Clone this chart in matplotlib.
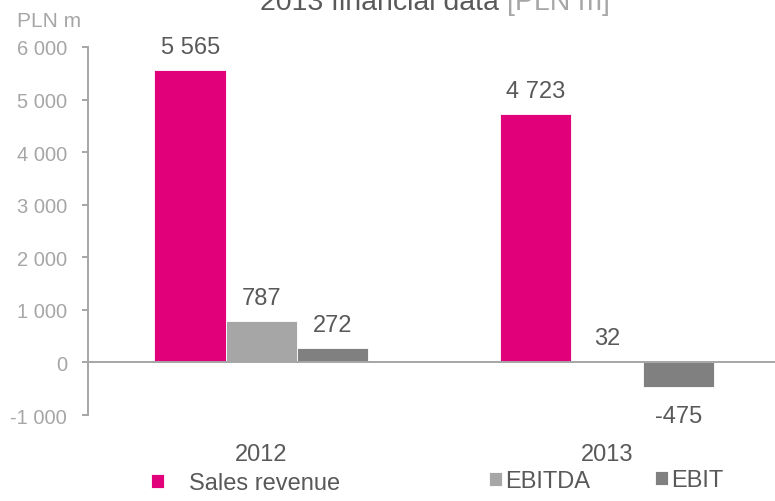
import matplotlib
matplotlib.use("Agg")
import matplotlib.pyplot as plt

# data
years = ["2012", "2013"]
series = ["Sales revenue", "EBITDA", "EBIT"]
sales = [5565, 4723]
ebitda = [787, 32]
ebit = [272, -475]
yticks = [-1000, 0, 1000, 2000, 3000, 4000, 5000, 6000]
ytick_labels = ["-1 000", "0", "1 000", "2 000", "3 000", "4 000", "5 000", "6 000"]

colors = ["#E2007A", "#A6A6A6", "#808080"]
dark = "#595959"
light = "#A6A6A6"

plt.rcParams["font.family"] = ["Liberation Sans", "DejaVu Sans"]

W, H = 775, 502
fig = plt.figure(figsize=(W / 100, H / 100), dpi=100)
ax = fig.add_axes([88 / W, 1 - 416 / H, (W - 88) / W, (416 - 48) / H])

width = 0.2064
x = list(range(len(years)))
bars = []
for i, vals in enumerate([sales, ebitda, ebit]):
    pos = [p + (i - 1) * width for p in x]
    b = ax.bar(pos, vals, width, color=colors[i], edgecolor="white", linewidth=0.6,
               label=series[i], zorder=2)
    bars.append(b)
    # value labels above (or below for negatives)
    for p, v in zip(pos, vals):
        off = 17 if v >= 0 else -35
        ax.annotate(f"{v:,}".replace(",", " "), (p, v),
                    xytext=(0, off), textcoords="offset pixels",
                    ha="center", va="baseline", fontsize=17, color=dark)

ax.axhline(0, color=light, lw=1.4, zorder=3)
ax.set_xlim(-0.502, 1.486)
ax.set_ylim(-1000, 6000)
ax.set_xticks(x)
ax.set_xticklabels(years, fontsize=17, color=dark)
ax.set_yticks(yticks)
ax.set_yticklabels(ytick_labels, fontsize=14.5, color=light)
ax.tick_params(axis="x", length=0, pad=20.5)
ax.tick_params(axis="y", length=4.3, width=1.4, color=light, pad=10.8)
for s in ["top", "right", "bottom"]:
    ax.spines[s].set_visible(False)
ax.spines["left"].set_color(light)
ax.spines["left"].set_linewidth(1.4)

# title in two colours (cut at the top like the original)
t1 = fig.text(260 / W, 1 - 10 / H, "2013 financial data ", fontsize=20.5,
              color=dark, va="baseline", ha="left")
ax.annotate("[PLN m]", xy=(1, 0), xycoords=t1, va="bottom", ha="left",
            fontsize=20.5, color=light, annotation_clip=False)

fig.text(17 / W, 1 - 27.3 / H, "PLN m", fontsize=15, color=light, va="baseline")

# legends, one per series, placed like the original
leg_pos = [(150.7, 484, 1.06), (489, 482, 0.13), (655, 481.5, 0.13)]
for b, name, (lx, ly, pad) in zip(bars, series, leg_pos):
    fig.legend([b], [name], loc="center left", bbox_to_anchor=(lx / W, 1 - ly / H),
               frameon=False, fontsize=17, labelcolor=dark, borderpad=0,
               borderaxespad=0, handlelength=0.55, handleheight=0.55,
               handletextpad=pad)

fig.savefig("out.png", dpi=100)
